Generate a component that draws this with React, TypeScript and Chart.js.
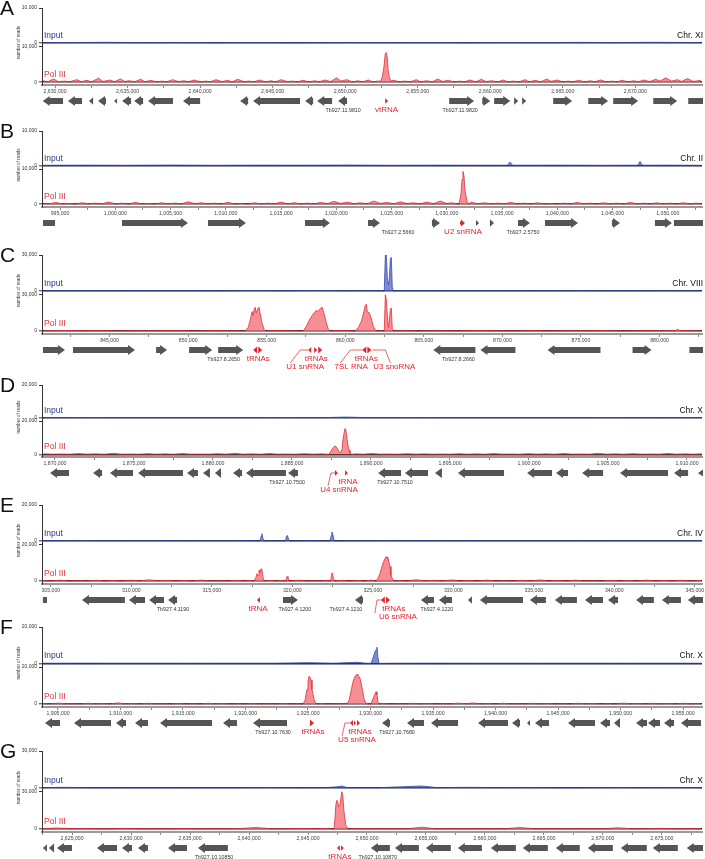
import React, { useEffect, useRef } from 'react';
import { Chart, registerables } from 'chart.js';
Chart.register(...registerables);

type Pt = [number, number];
type Gene = [number, number, number];
type Label = [string, number, number];
type Link = [number, number, number];

const FONT = '"Liberation Sans", Arial, Helvetica, sans-serif';

// ---------------- Panel A (Chr. XI), positions in kb ----------------
const A_inBase: Pt[] = [[2629.2,80],[2631.0,120],[2633.5,200],[2636.0,100],[2638.5,150],[2641.0,80],[2643.5,120],[2646.0,80],[2648.5,100],[2651.0,150],[2653.5,100],[2656.0,120],[2658.5,80],[2661.0,150],[2663.5,100],[2666.0,180],[2668.5,120],[2671.0,200],[2673.5,150],[2674.5,100]];
const A_inPeaks: Pt[] = [];
const A_polBase: Pt[] = [[2629.2,400],[2629.5,100],[2629.9,900],[2630.2,150],[2630.7,300],[2631.0,100],[2631.5,700],[2631.8,150],[2632.2,500],[2632.5,100],[2633.0,1100],[2633.3,200],[2633.8,600],[2634.1,100],[2634.5,900],[2634.8,200],[2635.1,400],[2635.5,150],[2635.9,800],[2636.2,100],[2636.6,500],[2637.0,100],[2637.4,300],[2637.7,100],[2638.1,700],[2638.5,150],[2638.9,400],[2639.2,100],[2639.6,600],[2640.0,100],[2640.4,300],[2640.7,100],[2641.1,700],[2641.5,150],[2641.9,500],[2642.2,100],[2642.6,800],[2643.0,150],[2643.4,300],[2643.7,100],[2644.1,600],[2644.5,100],[2644.9,400],[2645.2,100],[2645.6,700],[2646.0,150],[2646.4,300],[2646.7,100],[2647.1,500],[2647.5,100],[2647.9,400],[2648.2,100],[2648.6,600],[2649.0,150],[2649.4,1200],[2649.7,300],[2650.1,700],[2650.5,100],[2650.9,400],[2651.2,100],[2651.6,600],[2651.9,100],[2652.2,300],[2653.4,500],[2653.7,100],[2654.1,300],[2654.5,100],[2654.9,700],[2655.2,100],[2655.6,400],[2656.0,100],[2656.4,900],[2656.7,200],[2657.1,500],[2657.5,100],[2657.9,300],[2658.2,100],[2658.6,600],[2659.0,100],[2659.4,800],[2659.7,150],[2660.1,400],[2660.5,100],[2660.9,600],[2661.2,100],[2661.6,300],[2662.0,100],[2662.4,700],[2662.7,100],[2663.1,500],[2663.5,100],[2663.9,900],[2664.2,200],[2664.6,600],[2665.0,100],[2665.4,300],[2665.7,100],[2666.1,500],[2666.5,100],[2666.9,400],[2667.2,100],[2667.6,600],[2668.0,100],[2668.4,300],[2668.7,100],[2669.1,500],[2669.5,100],[2669.9,400],[2670.2,100],[2670.6,600],[2671.0,150],[2671.4,800],[2671.7,300],[2672.1,1200],[2672.5,300],[2672.9,700],[2673.2,200],[2673.6,1000],[2674.0,200],[2674.5,500]];
const A_polPeaks: Pt[] = [[2652.45,300],[2652.56,1500],[2652.68,4500],[2652.76,7800],[2652.83,8300],[2652.9,7000],[2652.96,3500],[2653.05,1200],[2653.15,400]];
const A_genes: Gene[] = [[2629.15,2630.55,-1],[2630.89,2631.86,-1],[2632.34,2632.62,-1],[2632.96,2633.51,-1],[2634.07,2634.27,-1],[2634.62,2635.24,-1],[2635.45,2636.07,-1],[2636.41,2638.13,-1],[2638.82,2640.0,-1],[2642.76,2643.31,-1],[2643.65,2646.89,-1],[2647.24,2647.79,-1],[2648.07,2649.1,-1],[2649.51,2650.13,-1],[2657.17,2658.89,1],[2659.45,2660.0,1],[2660.27,2661.38,1],[2661.65,2661.93,1],[2662.2,2662.48,1],[2664.34,2665.65,1],[2666.76,2668.13,1],[2668.48,2670.2,1],[2671.24,2672.89,1],[2673.65,2675.3,1]];
const A_rna: Gene[] = [[2652.76,2652.96,1]];
const A_ids: Label[] = [['Tb927.11.9810',2649.86,0],['Tb927.11.9820',2657.93,0]];
const A_rnaLabels: Label[] = [['vtRNA',2652.86,0]];
const A_links: Link[] = [];

// ---------------- Panel B (Chr. II) ----------------
const B_inBase: Pt[] = [[993.5,80],[997.0,120],[1001.0,80],[1005.0,150],[1009.0,80],[1013.0,120],[1017.0,100],[1021.0,150],[1025.0,80],[1029.0,120],[1032.0,100],[1035.5,100],[1035.72,1000],[1035.95,100],[1040.0,120],[1044.0,80],[1047.3,100],[1047.49,1200],[1047.7,100],[1050.0,120],[1053.0,80]];
const B_inPeaks: Pt[] = [];
const B_polBase: Pt[] = [[993.5,300],[994.0,100],[994.6,500],[995.2,100],[995.8,200],[996.4,80],[997.0,400],[997.6,100],[998.2,300],[998.8,100],[999.4,600],[1000.0,100],[1000.6,300],[1001.2,80],[1001.8,500],[1002.4,100],[1003.0,200],[1003.6,80],[1004.2,400],[1004.8,100],[1005.4,300],[1006.0,100],[1006.6,700],[1007.2,150],[1007.8,400],[1008.4,100],[1009.0,300],[1009.6,80],[1010.2,500],[1010.8,100],[1011.4,200],[1012.0,80],[1012.6,400],[1013.2,100],[1013.8,300],[1014.4,100],[1015.0,600],[1015.6,100],[1016.2,400],[1016.8,100],[1017.4,300],[1018.0,100],[1018.6,500],[1019.2,150],[1019.8,800],[1020.4,200],[1021.0,600],[1021.6,150],[1022.2,400],[1022.8,100],[1023.4,900],[1024.0,200],[1024.6,500],[1025.2,100],[1025.8,700],[1026.4,150],[1027.0,400],[1027.6,100],[1028.2,600],[1028.8,100],[1029.4,900],[1030.0,200],[1030.5,400],[1030.9,100],[1032.2,600],[1032.8,100],[1033.4,400],[1034.0,100],[1034.6,300],[1035.2,100],[1035.8,500],[1036.4,100],[1037.0,300],[1037.6,80],[1038.2,400],[1038.8,100],[1039.4,200],[1040.0,80],[1040.6,300],[1041.2,100],[1041.8,500],[1042.4,100],[1043.0,300],[1043.6,80],[1044.2,400],[1044.8,100],[1045.4,300],[1046.0,80],[1046.6,500],[1047.2,100],[1047.8,300],[1048.4,80],[1049.0,400],[1049.6,100],[1050.2,300],[1050.8,80],[1051.4,400],[1052.0,100],[1052.6,300],[1053.0,150]];
const B_polPeaks: Pt[] = [[1031.11,0],[1031.29,3000],[1031.38,7000],[1031.47,9300],[1031.56,8000],[1031.65,4000],[1031.83,800],[1032.01,0]];
const B_genes: Gene[] = [[993.46,994.55,0],[1000.61,1006.58,1],[1008.39,1011.83,1],[1017.17,1019.43,1],[1022.87,1023.96,1],[1028.66,1029.39,1],[1032.65,1032.92,1],[1033.91,1034.28,1],[1036.45,1037.53,1],[1038.89,1041.88,1],[1044.95,1045.68,1],[1048.84,1050.38,1],[1050.56,1053.6,0]];
const B_rna: Gene[] = [[1031.2,1031.65,1]];
const B_ids: Label[] = [['Tb927.2.5660',1025.59,0],['Tb927.2.5750',1036.9,0]];
const B_rnaLabels: Label[] = [['U2 snRNA',1031.47,0]];
const B_links: Link[] = [];

// ---------------- Panel C (Chr. VIII) ----------------
const C_inBase: Pt[] = [[840.8,100],[843.0,150],[846.0,100],[849.0,120],[852.0,80],[854.3,300],[856.0,100],[858.3,350],[860.0,150],[861.3,200],[862.3,150],[863.3,150],[866.0,120],[869.0,150],[872.0,100],[875.0,180],[878.0,120],[881.0,200],[882.6,150]];
const C_inPeaks: Pt[] = [[862.48,0],[862.55,30000],[862.61,30000],[862.67,12000],[862.74,5000],[862.8,9000],[862.87,27000],[862.93,28000],[862.99,3000],[863.05,0]];
const C_polBase: Pt[] = [[840.8,200],[842.0,400],[843.2,200],[844.4,300],[845.6,150],[846.8,250],[848.0,200],[849.2,300],[850.4,150],[851.6,300],[852.8,200],[853.5,100],[855.2,300],[856.4,200],[857.1,150],[859.3,300],[860.2,200],[862.2,200],[863.4,300],[864.6,150],[865.8,250],[867.0,150],[868.2,300],[869.4,200],[870.6,150],[871.8,300],[873.0,150],[874.2,250],[875.4,200],[876.6,300],[877.8,150],[879.0,250],[880.2,200],[881.0,300],[881.15,1500],[881.3,300],[882.6,200]];
const C_polPeaks: Pt[] = [[853.63,0],[853.82,3000],[853.95,9000],[854.07,16000],[854.14,13000],[854.2,18000],[854.27,19500],[854.33,15000],[854.46,19000],[854.52,19500],[854.59,14000],[854.71,6000],[854.84,1000],[854.97,0],
  [857.32,0],[857.52,4000],[857.71,9000],[857.9,13000],[858.03,15000],[858.15,17000],[858.28,16000],[858.41,18500],[858.53,19500],[858.66,14000],[858.79,7000],[858.92,1500],[859.04,0],
  [860.64,0],[860.83,3000],[861.02,8000],[861.15,14000],[861.27,21000],[861.34,22000],[861.4,16000],[861.53,15000],[861.66,10000],[861.78,4000],[861.91,1000],[862.04,0],
  [862.48,0],[862.55,30000],[862.61,26000],[862.67,14000],[862.74,3000],[862.8,8000],[862.87,18000],[862.93,19000],[862.99,2000],[863.05,0]];
const C_genes: Gene[] = [[840.76,842.16,1],[842.67,846.62,1],[847.96,848.66,1],[850.06,851.53,1],[851.91,853.5,1],[865.6,868.28,-1],[868.6,870.83,-1],[872.87,876.24,-1],[878.28,879.49,1],[881.9,883.3,1]];
const C_rna: Gene[] = [[854.14,854.39,-1],[854.46,854.71,1],[857.64,857.83,-1],[858.02,858.22,1],[858.28,858.53,1],[861.08,861.34,-1],[861.4,861.66,1]];
const C_ids: Label[] = [['Tb927.8.2650',852.26,0],['Tb927.8.2660',867.2,0]];
const C_rnaLabels: Label[] = [['tRNAs',854.46,0],['tRNAs',858.15,0],['U1 snRNA',857.45,1],['tRNAs',861.34,0],['7SL RNA',860.38,1],['U3 snoRNA',863.12,1]];
const C_links: Link[] = [[856.5,857.13,857.64],[859.68,860.32,861.08],[862.87,862.55,861.72]];

// ---------------- Panel D (Chr. X) ----------------
const D_inBase: Pt[] = [[1869.3,80],[1872.0,120],[1875.0,80],[1878.0,100],[1881.0,80],[1884.0,120],[1887.0,80],[1888.4,400],[1889.8,80],[1893.0,120],[1896.0,80],[1899.0,100],[1902.0,80],[1905.0,120],[1908.0,80],[1910.9,100]];
const D_inPeaks: Pt[] = [];
const D_polBase: Pt[] = [[1869.3,400],[1869.8,100],[1870.4,200],[1871.0,80],[1871.5,500],[1872.0,100],[1872.6,300],[1873.1,80],[1873.7,600],[1874.2,100],[1874.8,200],[1875.3,80],[1875.9,400],[1876.4,100],[1877.0,300],[1877.5,80],[1878.1,500],[1878.6,100],[1879.2,200],[1879.7,80],[1880.3,400],[1880.8,100],[1881.4,600],[1881.9,100],[1882.5,300],[1883.0,80],[1883.6,500],[1884.1,100],[1884.7,200],[1885.2,80],[1885.8,400],[1886.3,100],[1886.9,300],[1889.0,300],[1889.5,80],[1890.1,500],[1890.6,100],[1891.2,200],[1891.7,80],[1892.3,400],[1892.8,100],[1893.4,300],[1893.9,80],[1894.5,200],[1895.0,80],[1895.6,400],[1896.1,100],[1896.7,300],[1897.2,80],[1897.8,500],[1898.3,100],[1898.9,200],[1899.4,80],[1900.0,400],[1900.5,100],[1901.1,300],[1901.6,80],[1902.2,500],[1902.7,100],[1903.3,200],[1903.8,80],[1904.4,600],[1904.9,100],[1905.5,300],[1906.0,80],[1906.6,400],[1907.1,100],[1907.7,200],[1908.2,80],[1908.8,500],[1909.3,100],[1909.9,300],[1910.4,80],[1910.9,400]];
const D_polPeaks: Pt[] = [[1887.34,0],[1887.47,2000],[1887.6,4000],[1887.72,5000],[1887.85,4000],[1887.98,1500],[1888.05,800],[1888.17,3000],[1888.23,9000],[1888.3,13000],[1888.36,15500],[1888.42,14000],[1888.49,9000],[1888.55,5000],[1888.61,2500],[1888.67,800],[1888.8,0]];
const D_genes: Gene[] = [[1869.69,1870.89,-1],[1872.41,1872.98,-1],[1873.48,1874.94,-1],[1875.26,1878.1,-1],[1878.36,1879.05,-1],[1879.37,1879.81,-1],[1880.13,1880.51,-1],[1881.27,1881.84,-1],[1882.09,1884.62,-1],[1884.75,1885.38,-1],[1890.45,1891.9,-1],[1892.15,1893.61,-1],[1894.05,1894.49,-1],[1895.5,1898.42,-1],[1899.88,1901.46,-1],[1901.71,1902.47,-1],[1903.36,1904.69,-1],[1905.76,1908.8,-1],[1909.18,1910.07,-1],[1910.7,1911.6,-1]];
const D_rna: Gene[] = [[1887.72,1887.91,1],[1888.36,1888.54,1]];
const D_ids: Label[] = [['Tb927.10.7500',1884.69,0],['Tb927.10.7510',1891.52,0]];
const D_rnaLabels: Label[] = [['tRNA',1888.55,0],['U4 snRNA',1887.98,1]];
const D_links: Link[] = [[1887.28,1887.47,1887.72]];

// ---------------- Panel E (Chr. IV) ----------------
const E_inBase: Pt[] = [[304.5,100],[307.0,150],[309.5,100],[312.0,120],[314.5,80],[317.0,100],[318.6,80],[321.0,100],[323.5,80],[326.0,150],[328.5,100],[331.0,120],[333.5,80],[336.0,100],[338.5,80],[341.0,120],[343.5,80],[345.4,100]];
const E_inPeaks: Pt[] = [[318.0,0],[318.06,2500],[318.11,4000],[318.17,1500],[318.24,0],[319.58,0],[319.63,2500],[319.7,3000],[319.76,1000],[319.82,0],[322.36,0],[322.41,3000],[322.46,5000],[322.52,3500],[322.6,0]];
const E_polBase: Pt[] = [[304.5,300],[305.0,80],[305.6,500],[306.1,100],[306.7,200],[307.2,80],[307.8,400],[308.3,100],[308.9,300],[309.4,80],[310.0,500],[310.5,100],[311.1,700],[311.6,150],[312.2,400],[312.7,100],[313.3,300],[313.8,80],[314.4,500],[314.9,100],[315.5,200],[316.0,80],[316.6,400],[317.0,100],[317.4,300],[318.6,400],[319.0,100],[319.3,300],[319.9,100],[320.4,500],[320.9,100],[321.5,200],[321.8,80],[322.1,300],[323.0,400],[323.5,100],[324.1,300],[324.5,80],[324.9,500],[326.6,300],[327.1,100],[327.7,700],[328.2,150],[328.8,400],[329.3,100],[329.9,600],[330.4,100],[331.0,300],[331.5,80],[332.1,500],[332.6,100],[333.2,200],[333.7,80],[334.3,400],[334.8,100],[335.4,600],[335.9,100],[336.5,300],[337.0,80],[337.6,500],[338.1,100],[338.7,200],[339.2,80],[339.8,400],[340.3,100],[340.9,300],[341.4,80],[342.0,500],[342.5,100],[343.1,300],[343.6,80],[344.2,400],[344.7,100],[345.4,300]];
const E_polPeaks: Pt[] = [[317.62,0],[317.74,2000],[317.8,4000],[317.87,3000],[317.93,6000],[317.99,4500],[318.05,6700],[318.11,6500],[318.18,2000],[318.25,0],
  [319.6,0],[319.67,2500],[319.73,1800],[319.8,0],
  [322.38,0],[322.44,3500],[322.48,4500],[322.54,2000],[322.62,0],
  [325.2,0],[325.32,1500],[325.44,4000],[325.57,8000],[325.69,11000],[325.82,13300],[325.88,12500],[325.94,13000],[326.07,8000],[326.13,3000],[326.26,500],[326.38,0]];
const E_genes: Gene[] = [[304.51,304.76,0],[306.93,309.6,-1],[309.85,310.85,-1],[311.1,312.03,-1],[312.28,312.84,-1],[319.42,320.35,1],[323.89,324.39,-1],[327.99,328.8,-1],[329.11,329.92,-1],[330.91,331.16,-1],[331.65,334.33,-1],[334.76,335.75,-1],[336.31,337.68,-1],[338.18,339.3,-1],[339.61,340.23,-1],[341.35,342.46,-1],[342.96,344.14,-1],[344.57,345.7,-1]];
const E_rna: Gene[] = [[317.8,317.99,-1],[325.5,325.75,-1],[325.82,326.07,1]];
const E_ids: Label[] = [['Tb927.4.1190',312.59,0],['Tb927.4.1200',320.16,0],['Tb927.4.1210',323.33,0],['Tb927.4.1220',328.98,0]];
const E_rnaLabels: Label[] = [['tRNA',317.87,0],['tRNAs',326.31,0],['U6 snRNA',326.56,1]];
const E_links: Link[] = [[325.13,325.26,325.5]];

// ---------------- Panel F (Chr. X) ----------------
const F_inBase: Pt[] = [[1903.8,80],[1907.0,120],[1910.0,80],[1913.0,100],[1916.0,80],[1919.0,100],[1922.0,80],[1925.1,400],[1927.0,100],[1928.9,600],[1929.6,100],[1932.0,80],[1935.0,120],[1938.0,80],[1941.0,100],[1944.0,80],[1947.0,100],[1950.0,80],[1953.0,100],[1956.4,80]];
const F_inPeaks: Pt[] = [[1930.04,0],[1930.2,3000],[1930.36,6500],[1930.44,7500],[1930.52,8900],[1930.6,3000],[1930.68,0]];
const F_polBase: Pt[] = [[1903.8,300],[1904.4,80],[1905.0,500],[1905.6,100],[1906.2,200],[1906.8,80],[1907.4,400],[1908.0,100],[1908.6,300],[1909.2,80],[1909.8,600],[1910.4,100],[1911.0,300],[1911.6,80],[1912.2,400],[1912.8,100],[1913.4,200],[1914.0,80],[1914.6,300],[1915.2,80],[1915.8,200],[1916.4,80],[1917.0,400],[1917.6,100],[1918.2,300],[1918.8,80],[1919.4,200],[1920.0,80],[1920.6,300],[1921.2,80],[1921.8,200],[1922.4,80],[1923.0,300],[1923.6,80],[1924.2,200],[1926.0,300],[1926.6,80],[1927.2,200],[1928.0,200],[1929.8,200],[1931.0,300],[1931.6,80],[1932.2,200],[1932.8,80],[1933.4,400],[1934.0,100],[1934.6,300],[1935.2,80],[1935.8,200],[1936.4,100],[1937.0,500],[1937.6,150],[1938.2,600],[1938.8,100],[1939.4,300],[1940.0,80],[1940.6,400],[1941.2,100],[1941.8,200],[1942.4,80],[1943.0,400],[1943.6,100],[1944.2,300],[1944.8,80],[1945.4,200],[1946.0,80],[1946.6,400],[1947.2,100],[1947.8,300],[1948.4,80],[1949.0,200],[1949.6,80],[1950.2,500],[1950.8,100],[1951.4,300],[1952.0,80],[1952.6,400],[1953.2,100],[1953.8,300],[1954.4,80],[1955.0,400],[1955.6,100],[1956.4,300]];
const F_polPeaks: Pt[] = [[1924.6,0],[1924.76,2000],[1924.92,8000],[1925.0,12000],[1925.08,15000],[1925.16,14500],[1925.24,13000],[1925.32,8000],[1925.48,2500],[1925.64,300],[1925.8,0],
  [1928.12,0],[1928.28,2000],[1928.44,7000],[1928.6,12000],[1928.76,15000],[1928.92,16000],[1929.0,15500],[1929.16,14000],[1929.32,9000],[1929.48,3000],[1929.64,500],[1929.8,0],
  [1930.04,0],[1930.2,3000],[1930.36,5500],[1930.44,6700],[1930.52,5000],[1930.6,1000],[1930.68,0]];
const F_genes: Gene[] = [[1903.96,1905.16,-1],[1906.28,1909.24,-1],[1909.64,1910.44,-1],[1911.16,1912.2,-1],[1913.16,1917.32,-1],[1918.2,1919.32,-1],[1920.6,1923.32,-1],[1930.92,1931.56,-1],[1932.92,1934.28,-1],[1934.84,1937.0,-1],[1938.6,1941.0,-1],[1941.32,1941.96,-1],[1942.52,1942.76,-1],[1943.16,1944.28,-1],[1945.8,1947.96,-1],[1948.36,1949.16,-1],[1949.48,1949.96,-1],[1951.24,1952.12,-1],[1952.2,1953.16,-1],[1953.48,1954.28,-1],[1954.84,1956.44,-1]];
const F_rna: Gene[] = [[1925.16,1925.48,1],[1928.36,1928.6,-1],[1928.68,1928.84,1],[1928.92,1929.16,1]];
const F_ids: Label[] = [['Tb927.10.7630',1922.2,0],['Tb927.10.7680',1932.12,0]];
const F_rnaLabels: Label[] = [['tRNAs',1925.4,0],['tRNAs',1929.16,0],['U5 snRNA',1928.92,1]];
const F_links: Link[] = [[1927.72,1927.96,1928.36]];

// ---------------- Panel G (Chr. X) ----------------
const G_inBase: Pt[] = [[2622.5,100],[2624.0,400],[2626.5,100],[2629.0,150],[2631.5,100],[2634.0,150],[2636.5,100],[2639.0,120],[2641.5,250],[2644.0,150],[2646.5,150],[2647.5,900],[2647.9,1500],[2648.3,150],[2651.0,100],[2654.65,1500],[2656.0,100],[2658.5,400],[2661.0,150],[2663.5,300],[2666.0,100],[2668.5,150],[2671.0,300],[2673.5,150],[2676.0,300],[2678.3,100]];
const G_inPeaks: Pt[] = [];
const G_polBase: Pt[] = [[2622.5,300],[2623.7,800],[2624.9,300],[2626.1,400],[2627.3,200],[2628.5,300],[2629.7,500],[2630.9,200],[2632.1,300],[2633.3,200],[2634.5,400],[2635.7,200],[2636.9,300],[2638.1,200],[2639.3,400],[2640.6,1200],[2641.8,300],[2643.0,200],[2644.2,400],[2645.4,300],[2646.6,400],[2648.8,300],[2650.0,200],[2651.2,300],[2652.4,200],[2653.6,300],[2654.65,1500],[2655.8,200],[2657.0,300],[2658.2,200],[2659.4,300],[2660.6,200],[2661.8,300],[2662.96,1200],[2664.2,200],[2665.4,300],[2666.6,200],[2667.8,300],[2669.0,200],[2670.2,300],[2671.26,1000],[2672.5,200],[2673.7,300],[2674.9,500],[2676.1,200],[2677.3,300],[2678.3,200]];
const G_polPeaks: Pt[] = [[2647.2,0],[2647.28,8000],[2647.37,20000],[2647.45,23000],[2647.53,21000],[2647.62,18000],[2647.7,19000],[2647.79,25000],[2647.87,30000],[2647.96,26000],[2648.04,15000],[2648.13,8000],[2648.21,3000],[2648.38,0]];
const G_genes: Gene[] = [[2622.53,2622.87,-1],[2623.04,2623.47,-1],[2623.72,2624.99,-1],[2627.11,2628.81,-1],[2629.23,2630.08,-1],[2630.59,2631.43,-1],[2633.13,2634.74,-1],[2635.67,2638.21,-1],[2650.33,2651.94,-1],[2652.37,2654.4,-1],[2654.99,2657.11,-1],[2657.7,2659.74,-1],[2660.5,2662.62,-1],[2663.21,2665.33,-1],[2666.01,2668.04,-1],[2668.72,2670.84,-1],[2671.52,2673.72,-1],[2674.23,2676.35,-1],[2677.11,2678.9,-1]];
const G_rna: Gene[] = [[2647.45,2647.7,-1],[2647.79,2648.04,1]];
const G_ids: Label[] = [['Tb927.10.10850',2637.03,0],['Tb927.10.10870',2650.92,0]];
const G_rnaLabels: Label[] = [['tRNAs',2647.7,0]];
const G_links: Link[] = [];

interface Panel {
  letter: string; chr: string; xMin: number; xMax: number; yMax: number; top: number; axis: number;
  inBase: Pt[]; inPeaks: Pt[]; polBase: Pt[]; polPeaks: Pt[];
  genes: Gene[]; rna: Gene[]; ids: Label[]; rnaLabels: Label[]; links: Link[];
}

const PANELS: Panel[] = [
  { letter: 'A', chr: 'Chr. XI', xMin: 2629.1, xMax: 2674.6, yMax: 10000, top: 8, axis: 85, inBase: A_inBase, inPeaks: A_inPeaks, polBase: A_polBase, polPeaks: A_polPeaks, genes: A_genes, rna: A_rna, ids: A_ids, rnaLabels: A_rnaLabels, links: A_links },
  { letter: 'B', chr: 'Chr. II', xMin: 993.37, xMax: 1053.1, yMax: 10000, top: 131, axis: 207, inBase: B_inBase, inPeaks: B_inPeaks, polBase: B_polBase, polPeaks: B_polPeaks, genes: B_genes, rna: B_rna, ids: B_ids, rnaLabels: B_rnaLabels, links: B_links },
  { letter: 'C', chr: 'Chr. VIII', xMin: 840.7, xMax: 882.7, yMax: 30000, top: 255, axis: 334, inBase: C_inBase, inPeaks: C_inPeaks, polBase: C_polBase, polPeaks: C_polPeaks, genes: C_genes, rna: C_rna, ids: C_ids, rnaLabels: C_rnaLabels, links: C_links },
  { letter: 'D', chr: 'Chr. X', xMin: 1869.18, xMax: 1910.95, yMax: 20000, top: 385, axis: 457, inBase: D_inBase, inPeaks: D_inPeaks, polBase: D_polBase, polPeaks: D_polPeaks, genes: D_genes, rna: D_rna, ids: D_ids, rnaLabels: D_rnaLabels, links: D_links },
  { letter: 'E', chr: 'Chr. IV', xMin: 304.45, xMax: 345.45, yMax: 20000, top: 505, axis: 584, inBase: E_inBase, inPeaks: E_inPeaks, polBase: E_polBase, polPeaks: E_polPeaks, genes: E_genes, rna: E_rna, ids: E_ids, rnaLabels: E_rnaLabels, links: E_links },
  { letter: 'F', chr: 'Chr. X', xMin: 1903.72, xMax: 1956.52, yMax: 20000, top: 627, axis: 707, inBase: F_inBase, inPeaks: F_inPeaks, polBase: F_polBase, polPeaks: F_polPeaks, genes: F_genes, rna: F_rna, ids: F_ids, rnaLabels: F_rnaLabels, links: F_links },
  { letter: 'G', chr: 'Chr. X', xMin: 2622.45, xMax: 2678.4, yMax: 30000, top: 751, axis: 832, inBase: G_inBase, inPeaks: G_inPeaks, polBase: G_polBase, polPeaks: G_polPeaks, genes: G_genes, rna: G_rna, ids: G_ids, rnaLabels: G_rnaLabels, links: G_links },
];

const PAD_TOP = 10;
const X_AXIS_H = 12;
const BELOW = 40;

function merge(a: Pt[], b: Pt[]) {
  return [...a, ...b].sort((p, q) => p[0] - q[0]).map(([x, y]) => ({ x, y }));
}

function drawArrow(ctx: CanvasRenderingContext2D, x1: number, x2: number, y: number, dir: number, bh: number, hh: number, hlMax: number, color: string) {
  const w = Math.max(1, x2 - x1);
  ctx.fillStyle = color;
  ctx.beginPath();
  if (dir === 0) {
    ctx.rect(x1, y - bh, w, bh * 2);
  } else {
    const hl = Math.min(hlMax, w);
    const h = w <= hlMax ? Math.min(hh, Math.max(2.5, w * 0.8 + 0.5)) : hh;
    if (dir === 1) {
      ctx.moveTo(x1, y - bh);
      ctx.lineTo(x2 - hl, y - bh);
      ctx.lineTo(x2 - hl, y - h);
      ctx.lineTo(x2, y);
      ctx.lineTo(x2 - hl, y + h);
      ctx.lineTo(x2 - hl, y + bh);
      ctx.lineTo(x1, y + bh);
    } else {
      ctx.moveTo(x2, y - bh);
      ctx.lineTo(x1 + hl, y - bh);
      ctx.lineTo(x1 + hl, y - h);
      ctx.lineTo(x1, y);
      ctx.lineTo(x1 + hl, y + h);
      ctx.lineTo(x1 + hl, y + bh);
      ctx.lineTo(x2, y + bh);
    }
    ctx.closePath();
  }
  ctx.fill();
}

function makePlugin(p: Panel) {
  return {
    id: 'tracks' + p.letter,
    afterDraw(chart: any) {
      const ctx: CanvasRenderingContext2D = chart.ctx;
      const xs = chart.scales.x;
      const yIn = chart.scales.yIn;
      const yPol = chart.scales.yPol;
      const ca = chart.chartArea;
      const in0 = yIn.getPixelForValue(0);
      const pol0 = yPol.getPixelForValue(0);
      ctx.save();
      ctx.fillStyle = '#111';
      ctx.font = `21px ${FONT}`;
      ctx.textAlign = 'left';
      ctx.textBaseline = 'alphabetic';
      ctx.fillText(p.letter, 0, ca.top + 7);

      ctx.save();
      ctx.translate(19, (ca.top + ca.bottom) / 2 - 4);
      ctx.rotate(-Math.PI / 2);
      ctx.font = `4.5px ${FONT}`;
      ctx.textAlign = 'center';
      ctx.textBaseline = 'middle';
      ctx.fillStyle = '#333';
      ctx.fillText('number of reads', 0, 0);
      ctx.restore();

      ctx.font = `8.5px ${FONT}`;
      ctx.textAlign = 'left';
      ctx.textBaseline = 'alphabetic';
      ctx.fillStyle = '#2b3990';
      ctx.fillText('Input', ca.left + 2, in0 - 5);
      ctx.fillStyle = '#e3343d';
      ctx.fillText('Pol III', ca.left + 2, pol0 - 5);
      ctx.fillStyle = '#111';
      ctx.textAlign = 'right';
      ctx.fillText(p.chr, ca.right + 1, in0 - 5);

      const gy = ca.bottom + 16;
      ctx.save();
      ctx.beginPath();
      ctx.rect(ca.left, gy - 8, ca.right - ca.left + 1, 16);
      ctx.clip();
      for (const g of p.genes) drawArrow(ctx, xs.getPixelForValue(g[0]), xs.getPixelForValue(g[1]), gy, g[2], 3, 5, 7, '#555555');
      for (const g of p.rna) drawArrow(ctx, xs.getPixelForValue(g[0]), xs.getPixelForValue(g[1]), gy, g[2], 1.5, 3.5, 4, '#e8232e');
      ctx.restore();

      ctx.textAlign = 'center';
      ctx.textBaseline = 'middle';
      ctx.font = `5.3px ${FONT}`;
      ctx.fillStyle = '#333';
      for (const [t, pos, row] of p.ids) ctx.fillText(t, xs.getPixelForValue(pos), gy + 9.5 + row * 8);
      ctx.font = `8px ${FONT}`;
      ctx.fillStyle = '#e8232e';
      for (const [t, pos, row] of p.rnaLabels) ctx.fillText(t, xs.getPixelForValue(pos), gy + 8.5 + row * 8);
      ctx.strokeStyle = '#e8232e';
      ctx.lineWidth = 0.7;
      for (const [a, b, c] of p.links) {
        ctx.beginPath();
        ctx.moveTo(xs.getPixelForValue(a), gy + 13);
        ctx.lineTo(xs.getPixelForValue(b), gy);
        ctx.lineTo(xs.getPixelForValue(c), gy);
        ctx.stroke();
      }
      ctx.restore();
    },
  };
}

function yScale(M: number, minFrac: number, zeroColor: string) {
  return {
    type: 'linear',
    position: 'left',
    stack: 'tracks',
    stackWeight: 1,
    min: -M * minFrac,
    max: M,
    afterBuildTicks: (s: any) => { s.ticks = [{ value: 0 }, { value: M }]; },
    afterFit: (s: any) => { s.width = 42; },
    ticks: {
      font: { size: 5, family: FONT },
      color: '#333',
      padding: 2,
      callback: (v: any) => Number(v).toLocaleString('en-US'),
    },
    grid: {
      drawOnChartArea: true,
      color: (c: any) => (c.tick && c.tick.value === 0 ? zeroColor : 'rgba(0,0,0,0)'),
      lineWidth: (c: any) => (c.tick && c.tick.value === 0 ? 1.6 : 1),
      tickLength: 3,
      tickColor: '#333',
      tickWidth: 1,
    },
    border: { display: true, color: '#333', width: 1 },
  };
}

function Track({ p }: { p: Panel }) {
  const ref = useRef<HTMLCanvasElement>(null);
  const areaH = p.axis - p.top;
  const H = PAD_TOP + areaH + X_AXIS_H + BELOW;
  useEffect(() => {
    if (!ref.current) return;
    const chart = new Chart(ref.current, {
      type: 'line',
      data: {
        datasets: [
          {
            data: merge(p.inBase, p.inPeaks),
            yAxisID: 'yIn',
            borderColor: '#3a4aa5',
            backgroundColor: 'rgba(80, 100, 200, 0.75)',
            borderWidth: 0.8,
            pointRadius: 0,
            tension: 0,
            fill: 'origin',
          },
          {
            data: merge(p.polBase, p.polPeaks),
            yAxisID: 'yPol',
            borderColor: '#e2303a',
            backgroundColor: 'rgba(243, 115, 122, 0.8)',
            borderWidth: 0.8,
            pointRadius: 0,
            tension: 0,
            fill: 'origin',
          },
        ] as any,
      },
      options: {
        responsive: false,
        animation: false,
        events: [],
        layout: { autoPadding: false, padding: { top: PAD_TOP, left: 0, right: 3, bottom: BELOW } } as any,
        plugins: { legend: { display: false }, tooltip: { enabled: false } },
        scales: {
          x: {
            type: 'linear',
            min: p.xMin,
            max: p.xMax,
            afterBuildTicks: (s: any) => {
              s.ticks = s.ticks.filter((t: any) => Math.abs(t.value / 2.5 - Math.round(t.value / 2.5)) < 1e-6);
            },
            afterFit: (s: any) => { s.height = X_AXIS_H; },
            ticks: {
              stepSize: 2.5,
              includeBounds: false,
              autoSkip: false,
              maxRotation: 0,
              minRotation: 0,
              padding: 0,
              font: { size: 5.2, family: FONT },
              color: '#444',
              callback: (v: any) => {
                const n = Number(v);
                if (Math.abs(n / 5 - Math.round(n / 5)) > 1e-6) return '';
                return Math.round(n * 1000).toLocaleString('en-US');
              },
            },
            grid: { drawOnChartArea: false, tickLength: 3, color: '#888', tickColor: '#888' },
            border: { color: '#9a9a9a', width: 2 },
          },
          yPol: yScale(p.yMax, 0.08, '#3a1c22'),
          yIn: yScale(p.yMax, 0.1, '#1c2452'),
        } as any,
      },
      plugins: [makePlugin(p)],
    });
    return () => chart.destroy();
  }, [p]);
  return (
    <div style={{ position: 'absolute', left: 0, top: p.top - PAD_TOP, width: 705, height: H }}>
      <canvas ref={ref} width={705} height={H} style={{ display: 'block' }} />
    </div>
  );
}

export default function App() {
  return (
    <div style={{ position: 'absolute', left: 0, top: 0, width: 705, height: 859, overflow: 'hidden', background: '#fff' }}>
      {PANELS.map((p) => <Track key={p.letter} p={p} />)}
    </div>
  );
}
